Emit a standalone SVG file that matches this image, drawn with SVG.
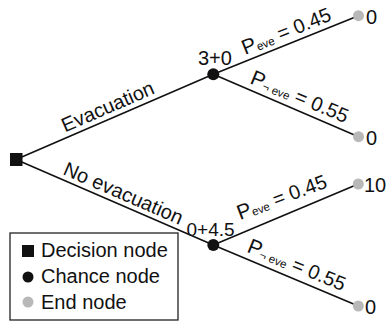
<svg xmlns="http://www.w3.org/2000/svg" width="387" height="324" viewBox="0 0 387 324">
<style>
text{font-family:"Liberation Sans",Arial,sans-serif;font-size:19px;fill:#111}
.lbl{font-size:20px}
.big{font-size:21px}
.sub{font-size:11.5px}
.edge{stroke:#111;stroke-width:1.6;fill:none}
.chance{fill:#111}
.end{fill:#b8b8b8}
.dec{fill:#111}
</style>
<rect width="387" height="324" fill="#fff"/>
<g id="connectors">
<line class="edge" x1="16" y1="159.5" x2="213.3" y2="74.3"/>
<line class="edge" x1="16" y1="159.5" x2="213.3" y2="245"/>
<line class="edge" x1="213.3" y1="74.3" x2="358.5" y2="15.7"/>
<line class="edge" x1="213.3" y1="74.3" x2="358.5" y2="136.7"/>
<line class="edge" x1="213.3" y1="245" x2="358.3" y2="184"/>
<line class="edge" x1="213.3" y1="245" x2="358.3" y2="306"/>
<text class="lbl" transform="translate(65,132.5) rotate(-23.4)">Evacuation</text>
<text class="lbl" transform="translate(62,174) rotate(23.4)" textLength="128" lengthAdjust="spacing">No evacuation</text>
<text class="lbl" transform="translate(245,55) rotate(-21.8)"><tspan class="big">P</tspan><tspan class="sub" dy="1">eve</tspan><tspan dy="-1"> = 0.45</tspan></text>
<text class="lbl" transform="translate(249,83) rotate(22.7)"><tspan class="big">P</tspan><tspan class="sub" dy="1">¬ eve</tspan><tspan dy="-1"> = 0.55</tspan></text>
<text class="lbl" transform="translate(240,220) rotate(-20.5)"><tspan class="big">P</tspan><tspan class="sub" dy="1">eve</tspan><tspan dy="-1"> = 0.45</tspan></text>
<text class="lbl" transform="translate(246,251.5) rotate(22.4)"><tspan class="big">P</tspan><tspan class="sub" dy="1">¬ eve</tspan><tspan dy="-1"> = 0.55</tspan></text>
</g>
<g id="decision">
<rect class="dec" x="10" y="153" width="12.5" height="13"/>
</g>
<g id="chance1">
<circle class="chance" cx="213.3" cy="74.3" r="6"/>
<text class="lbl" x="198" y="65">3+0</text>
</g>
<g id="chance2">
<circle class="chance" cx="213.3" cy="245" r="6"/>
<text x="186.5" y="236">0+4.5</text>
</g>
<g id="end1">
<circle class="end" cx="358.5" cy="15.7" r="5.5"/>
<text class="lbl" x="366" y="24">0</text>
</g>
<g id="end2">
<circle class="end" cx="358.5" cy="136.7" r="5.5"/>
<text class="lbl" x="366" y="145">0</text>
</g>
<g id="end3">
<circle class="end" cx="358.3" cy="184" r="5.5"/>
<text class="lbl" x="364" y="192">10</text>
</g>
<g id="end4">
<circle class="end" cx="358.3" cy="306" r="5.5"/>
<text class="lbl" x="365" y="314">0</text>
</g>
<g id="legend">
<rect x="10" y="233" width="168" height="87" fill="#fff" stroke="#222" stroke-width="1.3"/>
<rect class="dec" x="22" y="245" width="12" height="12"/>
<text class="lbl" x="41" y="257">Decision node</text>
<circle class="chance" cx="28" cy="277" r="5.5"/>
<text class="lbl" x="41" y="283">Chance node</text>
<circle class="end" cx="28" cy="302" r="5.5"/>
<text class="lbl" x="41" y="309">End node</text>
</g>
</svg>
